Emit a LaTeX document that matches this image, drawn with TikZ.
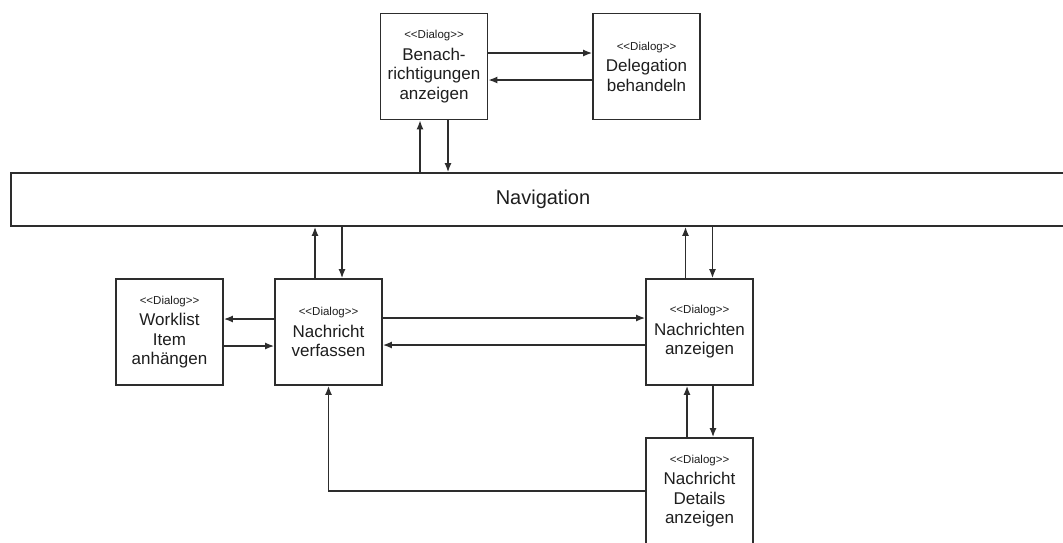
\documentclass[tikz,border=0pt]{standalone}
\usepackage{fontspec}
\setmainfont{Liberation Sans}
\usetikzlibrary{calc,arrows.meta}
\definecolor{lineGray}{RGB}{45,45,45}
\definecolor{textGray}{RGB}{30,30,30}
\newcommand{\Stereo}{{\fontsize{11.5}{13}\selectfont <\kern0pt<Dialog>\kern0pt>}}

\begin{document}
\begin{tikzpicture}[x=1pt,y=-1pt,
  dialogbox/.style={draw=lineGray,line width=1.8pt,fill=white,align=center,text=textGray,
    font=\fontsize{17}{19.5}\selectfont,minimum width=107pt,minimum height=106pt,inner sep=2pt},
  navbar/.style={draw=lineGray,line width=1.8pt,fill=white,text=textGray,
    font=\fontsize{20}{24}\selectfont,minimum width=1064pt,minimum height=53pt},
  flow/.style={draw=lineGray,line width=1.4pt,-{Latex[length=9pt,width=7pt]}}]
\useasboundingbox (0,0) rectangle (1063,542);
\clip (0,0) rectangle (1063,542);
\node[dialogbox] (benach) at (434,66.5) {\Stereo\\[2pt]Benach-\\richtigungen\\anzeigen};
\node[dialogbox] (deleg) at (646.5,66.5) {\Stereo\\[2pt]Delegation\\behandeln};
\node[navbar] (nav) at (543,199.5) {Navigation};
\node[dialogbox] (worklist) at (169.5,332) {\Stereo\\[2pt]Worklist\\Item\\anhängen};
\node[dialogbox] (verfassen) at (328.5,332) {\Stereo\\[2pt]Nachricht\\verfassen};
\node[dialogbox] (anzeigen) at (699.5,332) {\Stereo\\[2pt]Nachrichten\\anzeigen};
\node[dialogbox] (details) at (699.5,491) {\Stereo\\[2pt]Nachricht\\Details\\anzeigen};

\draw[flow] ([yshift=13.5pt]benach.east) -- ([yshift=13.5pt]deleg.west);
\draw[flow] ([yshift=-13.5pt]deleg.west) -- ([yshift=-13.5pt]benach.east);
\draw[flow] ([xshift=-14pt]benach.south |- nav.north) -- ([xshift=-14pt]benach.south);
\draw[flow] ([xshift=14pt]benach.south) -- ([xshift=14pt]benach.south |- nav.north);

\draw[flow] ([xshift=-13.5pt]verfassen.north) -- ([xshift=-13.5pt]verfassen.north |- nav.south);
\draw[flow] ([xshift=13.5pt]verfassen.north |- nav.south) -- ([xshift=13.5pt]verfassen.north);
\draw[flow] ([xshift=-14pt]anzeigen.north) -- ([xshift=-14pt]anzeigen.north |- nav.south);
\draw[flow] ([xshift=13pt]anzeigen.north |- nav.south) -- ([xshift=13pt]anzeigen.north);

\draw[flow] ([yshift=13pt]verfassen.west) -- ([yshift=13pt]worklist.east);
\draw[flow] ([yshift=-14pt]worklist.east) -- ([yshift=-14pt]verfassen.west);
\draw[flow] ([yshift=14pt]verfassen.east) -- ([yshift=14pt]anzeigen.west);
\draw[flow] ([yshift=-13pt]anzeigen.west) -- ([yshift=-13pt]verfassen.east);

\draw[flow] ([xshift=-12.5pt]details.north) -- ([xshift=-12.5pt]anzeigen.south);
\draw[flow] ([xshift=13.5pt]anzeigen.south) -- ([xshift=13.5pt]details.north);
\draw[flow] (details.west) -| (verfassen.south);
\end{tikzpicture}
\end{document}
